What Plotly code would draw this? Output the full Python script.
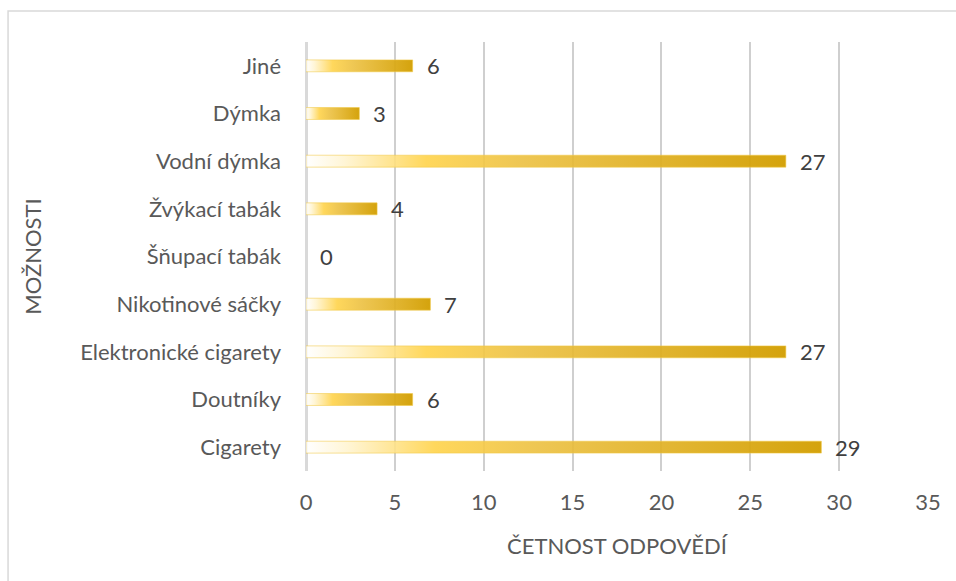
import plotly.graph_objects as go

# Survey answers (bottom to top on the chart)
categories = [
    "Cigarety",
    "Doutníky",
    "Elektronické cigarety",
    "Nikotinové sáčky",
    "Šňupací tabák",
    "Žvýkací tabák",
    "Vodní dýmka",
    "Dýmka",
    "Jiné",
]
counts = [29, 6, 27, 7, 0, 4, 27, 3, 6]

x_ticks = [0, 5, 10, 15, 20, 25, 30, 35]

FONT = "Lato"
FS = 22
TEXT_GREY = "#595959"
BAR_HALF = 0.125

gold_scale = [
    [0.0, "rgba(255,255,255,0.85)"],
    [0.08, "rgba(255,244,208,0.88)"],
    [0.25, "rgba(255,211,74,0.9)"],
    [0.45, "rgba(236,192,64,0.9)"],
    [1.0, "rgba(210,158,0,0.95)"],
]

fig = go.Figure()

for i, (cat, v) in enumerate(zip(categories, counts)):
    if v > 0:
        fig.add_trace(go.Scatter(
            x=[0, v, v, 0, 0],
            y=[i - BAR_HALF, i - BAR_HALF, i + BAR_HALF, i + BAR_HALF, i - BAR_HALF],
            mode="lines",
            fill="toself",
            fillgradient=dict(type="horizontal", colorscale=gold_scale),
            line=dict(color="rgba(240,200,70,0.55)", width=1),
            hoverinfo="skip",
            showlegend=False,
        ))
    fig.add_annotation(
        x=v, y=i, text=str(v), showarrow=False,
        xanchor="left", xshift=12,
        font=dict(family=FONT, size=FS, color="#404040"),
    )

fig.update_layout(
    width=956, height=581,
    margin=dict(l=306, r=28, t=42, b=110),
    paper_bgcolor="white",
    plot_bgcolor="white",
    font=dict(family=FONT, size=FS, color=TEXT_GREY),
    showlegend=False,
    xaxis=dict(
        range=[0, 35],
        tickvals=x_ticks,
        showgrid=True, gridcolor="#CFCFCF", gridwidth=1.5,
        zeroline=True, zerolinecolor="#D9D9D9", zerolinewidth=3,
        showline=False, ticks="",
        ticklabelstandoff=16,
        tickfont=dict(family=FONT, size=FS, color=TEXT_GREY),
        title=dict(text="ČETNOST ODPOVĚDÍ", standoff=24,
                   font=dict(family=FONT, size=FS, color=TEXT_GREY)),
        fixedrange=True,
    ),
    yaxis=dict(
        range=[-0.5, len(categories) - 0.5],
        tickvals=list(range(len(categories))),
        ticktext=categories,
        showgrid=False, zeroline=False, showline=False, ticks="",
        ticklabelstandoff=24,
        tickfont=dict(family=FONT, size=FS, color=TEXT_GREY),
        title=dict(text="MOŽNOSTI", standoff=32,
                   font=dict(family=FONT, size=FS, color=TEXT_GREY)),
        fixedrange=True,
    ),
    shapes=[
        dict(type="rect", xref="paper", yref="paper",
             x0=-0.479, x1=2, y0=-2, y1=1.0723,
             line=dict(color="#D9D9D9", width=1.5), fillcolor="rgba(0,0,0,0)",
             layer="below"),
    ],
)

fig.write_html("out.html")
